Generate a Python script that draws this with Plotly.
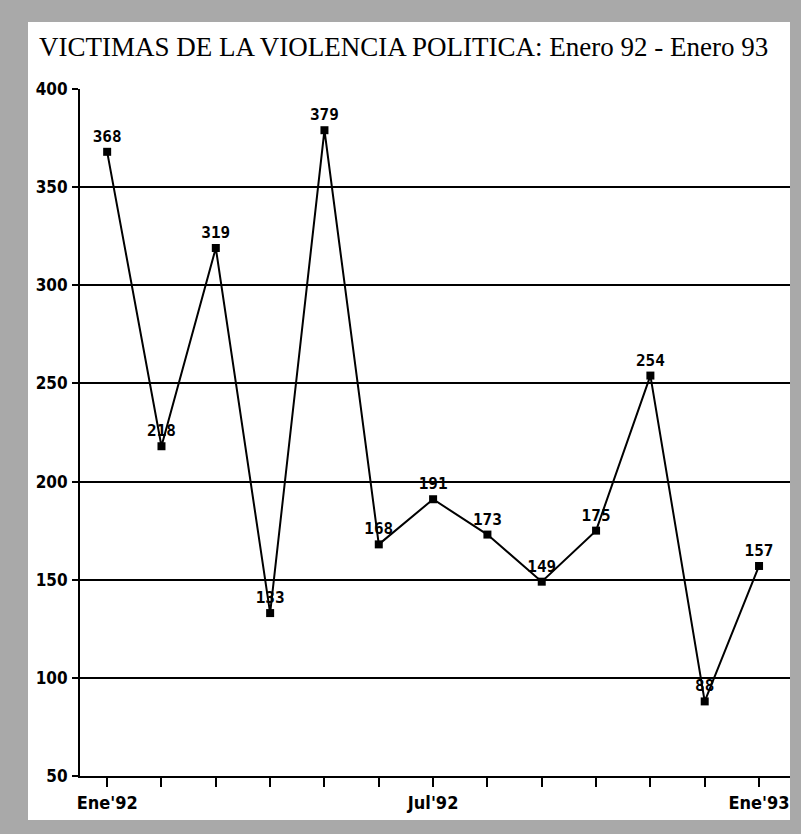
import plotly.graph_objects as go

months = ["Ene'92", "Feb'92", "Mar'92", "Abr'92", "May'92", "Jun'92", "Jul'92",
          "Ago'92", "Sep'92", "Oct'92", "Nov'92", "Dic'92", "Ene'93"]
victims = [368, 218, 319, 133, 379, 168, 191, 173, 149, 175, 254, 88, 157]
tick_text = ["Ene'92", "", "", "", "", "", "Jul'92", "", "", "", "", "", "Ene'93"]
y_ticks = [50, 100, 150, 200, 250, 300, 350, 400]

W, H = 801, 834
L, R, T, B = 80, 11, 89, 58
pw, ph = W - L - R, H - T - B

def px(x):
    return (x - L) / pw

def py(y):
    return (H - B - y) / ph

fig = go.Figure()
fig.add_trace(go.Scatter(
    x=list(range(len(months))), y=victims,
    mode="lines+markers+text",
    line=dict(color="black", width=2),
    marker=dict(symbol="square", size=8, color="black"),
    text=[str(v) for v in victims],
    textposition="top center",
    textfont=dict(family="DejaVu Sans Mono", size=16, color="black", weight="bold"),
    hoverinfo="skip",
    cliponaxis=False,
))

fig.add_shape(type="rect", xref="paper", yref="paper",
              x0=px(28), x1=px(790), y0=py(820), y1=py(22),
              fillcolor="white", line=dict(width=0), layer="below")

fig.add_annotation(text="VICTIMAS DE LA VIOLENCIA POLITICA: Enero 92 - Enero 93",
                   xref="paper", yref="paper", x=px(403), y=py(47),
                   showarrow=False, xanchor="center", yanchor="middle",
                   font=dict(family="Liberation Serif", size=27, color="black"))

fig.update_layout(
    width=W, height=H,
    margin=dict(l=L, r=R, t=T, b=B),
    paper_bgcolor="#a9a9a9",
    plot_bgcolor="white",
    showlegend=False,
    xaxis=dict(
        range=[-0.5, 12.57],
        tickvals=list(range(len(months))), ticktext=tick_text,
        ticks="outside", ticklen=9, tickwidth=2, tickcolor="black",
        showgrid=False, zeroline=False,
        showline=True, linecolor="black", linewidth=2,
        tickfont=dict(family="DejaVu Sans Condensed", size=18, color="black", weight="bold"),
    ),
    yaxis=dict(
        range=[50, 400], tickvals=y_ticks,
        ticks="outside", ticklen=6, tickwidth=2, tickcolor="black",
        ticklabelstandoff=1,
        showgrid=True, gridcolor="black", gridwidth=2,
        zeroline=False, showline=True, linecolor="black", linewidth=2,
        tickfont=dict(family="DejaVu Sans Condensed", size=17, color="black", weight="bold"),
    ),
)

fig.write_html("out.html", config={"displayModeBar": False},
               post_script="document.body.style.margin='0';")
